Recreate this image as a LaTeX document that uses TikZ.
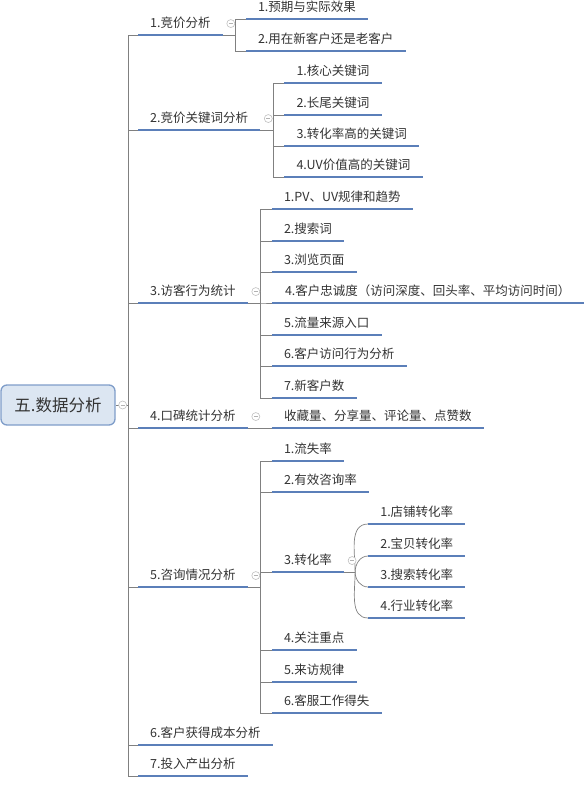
\documentclass[tikz,border=0pt]{standalone}
\usepackage{fontspec}
\newfontfamily\cjk{Noto Sans CJK SC}
\usetikzlibrary{positioning}
\definecolor{linecol}{HTML}{5B7FB9}
\definecolor{trunkcol}{HTML}{808080}
\definecolor{rootfill}{HTML}{DCE6F2}
\definecolor{rootdraw}{HTML}{7F9DC9}
\definecolor{textcol}{HTML}{333333}

\begin{document}
\begin{tikzpicture}[
  x=1pt, y=-1pt,
  topic/.style={anchor=south west, inner xsep=12pt, inner ysep=5pt, text height=10pt, text depth=2.5pt, font=\cjk\fontsize{12.5}{15}\selectfont, text=textcol},
  rootbox/.style={rectangle, rounded corners=6pt, draw=rootdraw, line width=1.3pt, fill=rootfill, minimum width=114pt, minimum height=40pt, font=\cjk\fontsize{16.5}{19}\selectfont, text=textcol},
  uline/.style={draw=linecol, line width=2.5pt},
  branch/.style={draw=trunkcol, line width=0.7pt},
  fold/.style={circle, draw=gray!50, fill=white, line width=0.6pt, inner sep=0pt, minimum size=8pt,
    path picture={\draw[gray!60, line width=0.6pt] ([xshift=-2pt]path picture bounding box.center) -- ([xshift=2pt]path picture bounding box.center);}}
]
\useasboundingbox (0,0) rectangle (588,787);

% root
\node[rootbox] (root) at (58,405) {五.数据分析};
\coordinate (trunk) at (128,405);

% level one
\node[topic] (a1) at (138,35) {1.竞价分析};
\node[topic] (a2) at (138,130) {2.竞价关键词分析};
\node[topic] (a3) at (138,303) {3.访客行为统计};
\node[topic] (a4) at (138,428) {4.口碑统计分析};
\node[topic] (a5) at (138,587) {5.咨询情况分析};
\node[topic] (a6) at (138,745) {6.客户获得成本分析};
\node[topic] (a7) at (138,776) {7.投入产出分析};

% group 1
\coordinate (g1) at ([xshift=13pt]a1.south east);
\node[topic, xshift=10pt] (a11) at (g1 |- 0,19) {1.预期与实际效果};
\node[topic, xshift=10pt] (a12) at (g1 |- 0,51) {2.用在新客户还是老客户};

% group 2
\coordinate (g2) at ([xshift=13pt]a2.south east);
\node[topic, xshift=11pt] (a21) at (g2 |- 0,83) {1.核心关键词};
\node[topic, xshift=11pt] (a22) at (g2 |- 0,115) {2.长尾关键词};
\node[topic, xshift=11pt] (a23) at (g2 |- 0,146) {3.转化率高的关键词};
\node[topic, xshift=11pt] (a24) at (g2 |- 0,177) {4.UV价值高的关键词};

% group 3
\coordinate (g3) at ([xshift=13pt]a3.south east);
\node[topic, xshift=11pt] (a31) at (g3 |- 0,209) {1.PV、UV规律和趋势};
\node[topic, xshift=11pt] (a32) at (g3 |- 0,241) {2.搜索词};
\node[topic, xshift=11pt] (a33) at (g3 |- 0,272) {3.浏览页面};
\node[topic, xshift=11pt, inner xsep=13pt] (a34) at (g3 |- 0,303) {4.客户忠诚度（访问深度、回头率、平均访问时间）};
\node[topic, xshift=11pt] (a35) at (g3 |- 0,335) {5.流量来源入口};
\node[topic, xshift=11pt] (a36) at (g3 |- 0,366) {6.客户访问行为分析};
\node[topic, xshift=11pt] (a37) at (g3 |- 0,398) {7.新客户数};

% group 4
\node[topic] (a41) at ([xshift=24pt]a4.south east) {收藏量、分享量、评论量、点赞数};

% group 5
\coordinate (g5) at ([xshift=13pt]a5.south east);
\node[topic, xshift=11pt] (a51) at (g5 |- 0,461) {1.流失率};
\node[topic, xshift=11pt] (a52) at (g5 |- 0,492) {2.有效咨询率};
\node[topic, xshift=11pt] (a53) at (g5 |- 0,572) {3.转化率};
\node[topic, xshift=11pt] (a54) at (g5 |- 0,650) {4.关注重点};
\node[topic, xshift=11pt] (a55) at (g5 |- 0,682) {5.来访规律};
\node[topic, xshift=11pt] (a56) at (g5 |- 0,713) {6.客服工作得失};

% group 5.3
\coordinate (g53) at ([xshift=11pt]a53.south east);
\node[topic, xshift=13pt] (a531) at (g53 |- 0,524) {1.店铺转化率};
\node[topic, xshift=13pt] (a532) at (g53 |- 0,556) {2.宝贝转化率};
\node[topic, xshift=13pt] (a533) at (g53 |- 0,587) {3.搜索转化率};
\node[topic, xshift=13pt] (a534) at (g53 |- 0,618) {4.行业转化率};

% connectors
\draw[branch] (root.east) -- (trunk);
\foreach \n in {a1,a2,a3,a4,a5,a6,a7}
  \draw[branch] (trunk) |- (\n.south west);
\foreach \n in {a11,a12}
  \draw[branch] (a1.south east) -- (g1) |- (\n.south west);
\foreach \n in {a21,a22,a23,a24}
  \draw[branch] (a2.south east) -- (g2) |- (\n.south west);
\foreach \n in {a31,a32,a33,a34,a35,a36,a37}
  \draw[branch] (a3.south east) -- (g3) |- (\n.south west);
\draw[branch] (a4.south east) -- (a41.south west);
\foreach \n in {a51,a52,a53,a54,a55,a56}
  \draw[branch] (a5.south east) -- (g5) |- (\n.south west);
\draw[branch] (a53.south east) -- (g53);
\foreach \n in {a531,a532}
  \draw[branch] (g53) to[out=90,in=180] (\n.south west);
\foreach \n in {a533,a534}
  \draw[branch] (g53) to[out=-90,in=180] (\n.south west);

% underlines
\foreach \n in {a1,a2,a3,a4,a5,a6,a7,a11,a12,a21,a22,a23,a24,a31,a32,a33,a34,a35,a36,a37,a41,a51,a52,a53,a54,a55,a56,a531,a532,a533,a534}
  \draw[uline] (\n.south west) -- (\n.south east);

% fold marks
\node[fold] (f0) at ([xshift=7pt]root.east) {};
\node[fold] (f1) at ([xshift=8pt]a1.east) {};
\node[fold] (f2) at ([xshift=8pt]a2.east) {};
\node[fold] (f3) at ([xshift=8pt]a3.east) {};
\node[fold] (f4) at ([xshift=8pt]a4.east) {};
\node[fold] (f5) at ([xshift=8pt]a5.east) {};
\node[fold] (f53) at ([xshift=8pt]a53.east) {};
\end{tikzpicture}
\end{document}
